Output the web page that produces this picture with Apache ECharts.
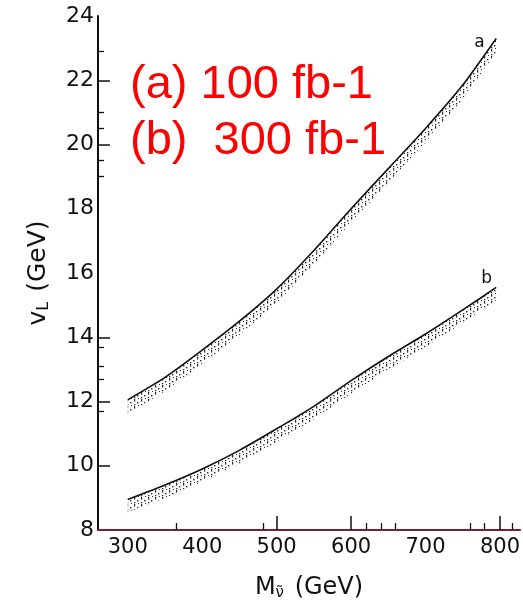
<!DOCTYPE html>
<html>
<head>
<meta charset="utf-8">
<script src="https://cdn.jsdelivr.net/npm/echarts@6/dist/echarts.min.js"></script>
<style>html,body{margin:0;padding:0;background:#fff;}#c{width:523px;height:606px;}</style>
</head>
<body>
<div id="c"></div>
<script>
// ---- data ----
var massX = [300, 350, 400, 450, 500, 550, 600, 650, 700, 750, 795];
var aUpper = [12.05, 12.75, 13.6, 14.5, 15.5, 16.7, 18.0, 19.25, 20.5, 21.85, 23.3];
var aLower = [11.62, 12.32, 13.17, 14.07, 15.07, 16.27, 17.57, 18.82, 20.07, 21.42, 22.87];
var bUpper = [8.95, 9.4, 9.9, 10.48, 11.15, 11.85, 12.65, 13.4, 14.1, 14.85, 15.55];
var bLower = [8.55, 9.0, 9.5, 10.08, 10.75, 11.45, 12.25, 13.0, 13.7, 14.45, 15.15];
var xTickLabels = [300, 400, 500, 600, 700, 800];
var xMajorTicks = [500, 600, 800];
var xMinorTicks = [365, 482, 621, 640, 660, 760, 779, 817];
var yMajorTicks = [10, 12, 14, 20, 22];
var yMinorTicks = [11.7, 12.7, 13.1, 13.7, 19.0, 19.5, 20.5, 21.0, 22.9];
var curveNames = ['a', 'b'];
var noteLines = ['(a) 100 fb-1', '(b)  300 fb-1'];

// hatch pattern
var pc = document.createElement('canvas');
pc.width = 7; pc.height = 7;
var g = pc.getContext('2d');
g.fillStyle = '#141414';
g.fillRect(1, 0, 1.2, 2.6);
g.fillRect(4, 3, 1.4, 1.4);
g.fillRect(1, 5, 1.3, 1.3);
g.fillRect(5, 6, 1.0, 1.0);

function pairs(xs, ys) { return xs.map(function (x, i) { return [x, ys[i]]; }); }

var FONT = 'DejaVu Sans';
function bandSeries(name, up, lo) {
  return [
    { type: 'custom', data: [0], silent: true, z: 2,
      renderItem: function (params, api) {
        var pts = [];
        for (var i = 0; i < massX.length; i++) pts.push(api.coord([massX[i], up[i]]));
        for (var j = massX.length - 1; j >= 0; j--) pts.push(api.coord([massX[j], lo[j]]));
        return { type: 'polygon', shape: { points: pts },
          style: { fill: { image: pc, repeat: 'repeat' }, stroke: null, opacity: 0.9 } };
      } },
    { type: 'line', data: pairs(massX, up), symbol: 'none', smooth: 0.2,
      lineStyle: { color: '#111', width: 1.6 },
      endLabel: { show: true, formatter: name, fontFamily: FONT, fontSize: 17, color: '#111',
        offset: name === 'a' ? [-30, 4] : [-23, -9] },
      z: 3 }
  ];
}

var chart = echarts.init(document.getElementById('c'), null, { renderer: 'canvas' });
chart.setOption({
  animation: false,
  backgroundColor: '#fff',
  grid: { left: 98, right: 0, top: 16, bottom: 76, containLabel: false },
  xAxis: [
    { type: 'value', min: 260, max: 827, position: 'bottom',
      axisLine: { show: true, onZero: false, lineStyle: { color: '#7a2032', width: 2 } },
      axisTick: { show: true, inside: true, length: 14, customValues: xMajorTicks, lineStyle: { color: '#111', width: 1.5 } },
      axisLabel: { customValues: xTickLabels, fontFamily: FONT, fontSize: 21, color: '#111', margin: 7 },
      splitLine: { show: false },
      name: '{m|M}{s|ν̃}{m| (GeV)}', nameLocation: 'middle', nameGap: 44,
      nameTextStyle: { rich: { m: { fontFamily: FONT, fontSize: 24, color: '#111' },
                               s: { fontFamily: FONT, fontSize: 15, color: '#111', padding: [12, 3, 0, 0] } } } },
    { type: 'value', min: 260, max: 827, position: 'bottom', offset: 0,
      axisLine: { show: false },
      axisTick: { show: true, inside: true, length: 7, customValues: xMinorTicks, lineStyle: { color: '#111', width: 1.3 } },
      axisLabel: { show: false }, splitLine: { show: false } }
  ],
  yAxis: [
    { type: 'value', min: 8, max: 24, interval: 2, position: 'left',
      axisLine: { show: true, onZero: false, lineStyle: { color: '#111', width: 2 } },
      axisTick: { show: true, inside: true, length: 12, customValues: yMajorTicks, lineStyle: { color: '#111', width: 1.5 } },
      axisLabel: { fontFamily: FONT, fontSize: 22, color: '#111', margin: 4 },
      splitLine: { show: false },
      name: '{m|v}{s|L}{m| (GeV)}', nameLocation: 'middle', nameGap: 46, nameRotate: 90,
      nameTextStyle: { rich: { m: { fontFamily: FONT, fontSize: 25, color: '#111' },
                               s: { fontFamily: FONT, fontSize: 16, color: '#111', padding: [12, 2, 0, 0] } } } },
    { type: 'value', min: 8, max: 24, interval: 2, position: 'left', offset: 0,
      axisLine: { show: false },
      axisTick: { show: true, inside: true, length: 6, customValues: yMinorTicks, lineStyle: { color: '#111', width: 1.3 } },
      axisLabel: { show: false }, splitLine: { show: false } }
  ],
  graphic: noteLines.map(function (t, i) {
    return { type: 'text', x: 130, y: 85 + i * 56,
      style: { text: t, fontFamily: 'Liberation Sans', fontSize: 47, fill: '#ff0000',
               textAlign: 'left', textVerticalAlign: 'middle', verticalAlign: 'middle' } };
  }),
  series: bandSeries(curveNames[0], aUpper, aLower).concat(bandSeries(curveNames[1], bUpper, bLower))
});
</script>
</body>
</html>
